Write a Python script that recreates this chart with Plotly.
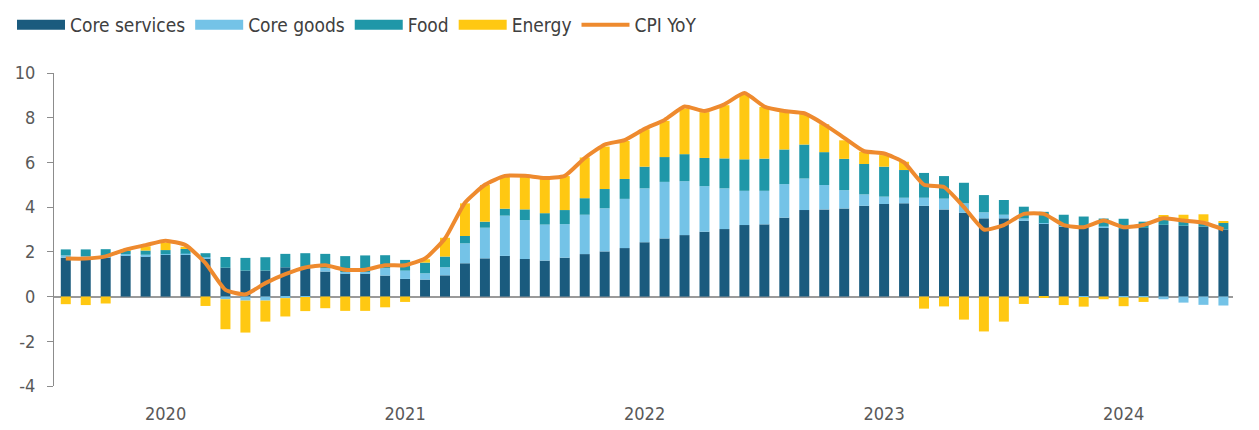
import plotly.graph_objects as go

# Monthly, Aug 2019 - Jun 2024
months = []
y, m = 2019, 8
for _ in range(59):
    months.append(f"{y}-{m:02d}")
    m += 1
    if m > 12:
        m = 1
        y += 1

core_services = [1.74, 1.71, 1.76, 1.83, 1.79, 1.87, 1.87, 1.70, 1.29, 1.16,
                 1.16, 1.31, 1.34, 1.12, 1.03, 1.03, 0.94, 0.79, 0.76, 0.95,
                 1.49, 1.71, 1.82, 1.68, 1.61, 1.74, 1.90, 2.02, 2.17, 2.43,
                 2.60, 2.75, 2.90, 3.02, 3.20, 3.23, 3.53, 3.87, 3.90, 3.94,
                 4.06, 4.14, 4.17, 4.06, 3.90, 3.75, 3.50, 3.50, 3.39, 3.27,
                 3.15, 3.10, 3.07, 3.02, 3.07, 3.21, 3.17, 3.13, 3.00]
core_goods = [0.10, 0.10, 0.06, 0.07, 0.08, 0.03, 0.05, 0.06, -0.12, -0.18,
              -0.18, -0.07, -0.02, 0.15, 0.07, 0.07, 0.33, 0.37, 0.28, 0.36,
              0.89, 1.37, 1.80, 1.74, 1.61, 1.50, 1.76, 1.93, 2.20, 2.41,
              2.53, 2.41, 2.04, 1.82, 1.53, 1.50, 1.50, 1.41, 1.09, 0.82,
              0.51, 0.33, 0.25, 0.36, 0.48, 0.42, 0.27, 0.16, 0.10, 0.02,
              0.01, -0.02, 0.07, -0.03, -0.03, -0.12, -0.27, -0.37, -0.40]
food = [0.27, 0.30, 0.30, 0.15, 0.19, 0.18, 0.21, 0.18, 0.48, 0.57,
        0.60, 0.60, 0.60, 0.64, 0.71, 0.74, 0.58, 0.48, 0.48, 0.48,
        0.33, 0.27, 0.31, 0.48, 0.51, 0.63, 0.74, 0.86, 0.89, 0.97,
        1.11, 1.21, 1.26, 1.34, 1.41, 1.44, 1.55, 1.52, 1.47, 1.40,
        1.36, 1.34, 1.24, 1.11, 1.01, 0.92, 0.77, 0.66, 0.53, 0.50,
        0.50, 0.48, 0.35, 0.46, 0.28, 0.36, 0.20, 0.22, 0.30]
energy = [-0.34, -0.38, -0.31, 0.08, 0.19, 0.33, 0.10, -0.42, -1.34, -1.43,
          -0.94, -0.82, -0.63, -0.52, -0.64, -0.64, -0.48, -0.24, 0.15, 0.84,
          1.46, 1.64, 1.46, 1.46, 1.56, 1.52, 1.82, 1.90, 1.70, 1.67,
          1.62, 2.04, 2.05, 2.38, 2.93, 2.31, 1.71, 1.38, 1.25, 0.83,
          0.55, 0.52, 0.37, -0.54, -0.44, -1.03, -1.56, -1.12, -0.33, -0.06,
          -0.38, -0.43, -0.12, -0.40, -0.21, 0.05, 0.29, 0.33, 0.06]
cpi_yoy = [1.7, 1.7, 1.8, 2.1, 2.3, 2.5, 2.3, 1.5, 0.3, 0.1,
           0.6, 1.0, 1.3, 1.4, 1.2, 1.2, 1.4, 1.4, 1.7, 2.6,
           4.2, 5.0, 5.4, 5.4, 5.3, 5.4, 6.2, 6.8, 7.0, 7.5,
           7.9, 8.5, 8.3, 8.6, 9.1, 8.5, 8.3, 8.2, 7.7, 7.1,
           6.5, 6.4, 6.0, 5.0, 4.9, 4.0, 3.0, 3.2, 3.7, 3.7,
           3.2, 3.1, 3.4, 3.1, 3.2, 3.5, 3.4, 3.3, 3.0]

year_ticks = ["2020-01", "2021-01", "2022-01", "2023-01", "2024-01"]
year_labels = ["2020", "2021", "2022", "2023", "2024"]
y_ticks = [-4, -2, 0, 2, 4, 6, 8, 10]
y_labels = ["-4", "-2", "0", "2", "4", "6", "8", "10"]

series = [
    ("Core services", core_services, "#1A5B7E"),
    ("Core goods", core_goods, "#74C3E7"),
    ("Food", food, "#1F97A8"),
    ("Energy", energy, "#FFC812"),
]
line_color = "#EE8A2E"
FONT = "DejaVu Sans Condensed, Liberation Sans Narrow, Roboto, sans-serif"

W, H = 1251, 422  # page body has an 8px margin

fig = go.Figure()
for name, vals, col in series:
    fig.add_trace(go.Bar(x=months, y=vals, name=name, marker_color=col,
                         marker_line_width=0, showlegend=False))
fig.add_trace(go.Scatter(x=months, y=cpi_yoy, name="CPI YoY", mode="lines",
                         line=dict(color=line_color, width=4, shape="spline", smoothing=0.5),
                         showlegend=False))
# legend entries
for name, vals, col in series:
    fig.add_trace(go.Scatter(x=[None], y=[None], name=name, mode="lines",
                             line=dict(color=col, width=10)))
fig.add_trace(go.Scatter(x=[None], y=[None], name="CPI YoY", mode="lines",
                         line=dict(color=line_color, width=4)))

fig.update_layout(
    width=W, height=H,
    margin=dict(l=46, r=26, t=65, b=44, autoexpand=False),
    barmode="relative", bargap=0.5,
    plot_bgcolor="white", paper_bgcolor="white",
    font=dict(family=FONT, size=18, color="#595959"),
    legend=dict(orientation="h", xref="container", yref="container",
                x=4 / W, y=1 - 17 / H, xanchor="left", yanchor="middle",
                font=dict(size=19, color="#404040"), itemwidth=48,
                traceorder="normal", tracegroupgap=0),
    xaxis=dict(type="category", range=[-0.59, 58.48], tickmode="array",
               tickvals=year_ticks, ticktext=year_labels, ticks="",
               showgrid=False, showline=False, zeroline=False,
               ticklabelstandoff=15),
    yaxis=dict(range=[-4, 10], tickmode="array", tickvals=y_ticks, ticktext=y_labels,
               showgrid=False, showline=True, linecolor="#8c8c8c", linewidth=1,
               ticks="outside", ticklen=6, tickcolor="#8c8c8c",
               zeroline=True, zerolinecolor="#9a9a9a", zerolinewidth=1.5,
               ticklabelstandoff=8),
)
fig.write_html("out.html")
